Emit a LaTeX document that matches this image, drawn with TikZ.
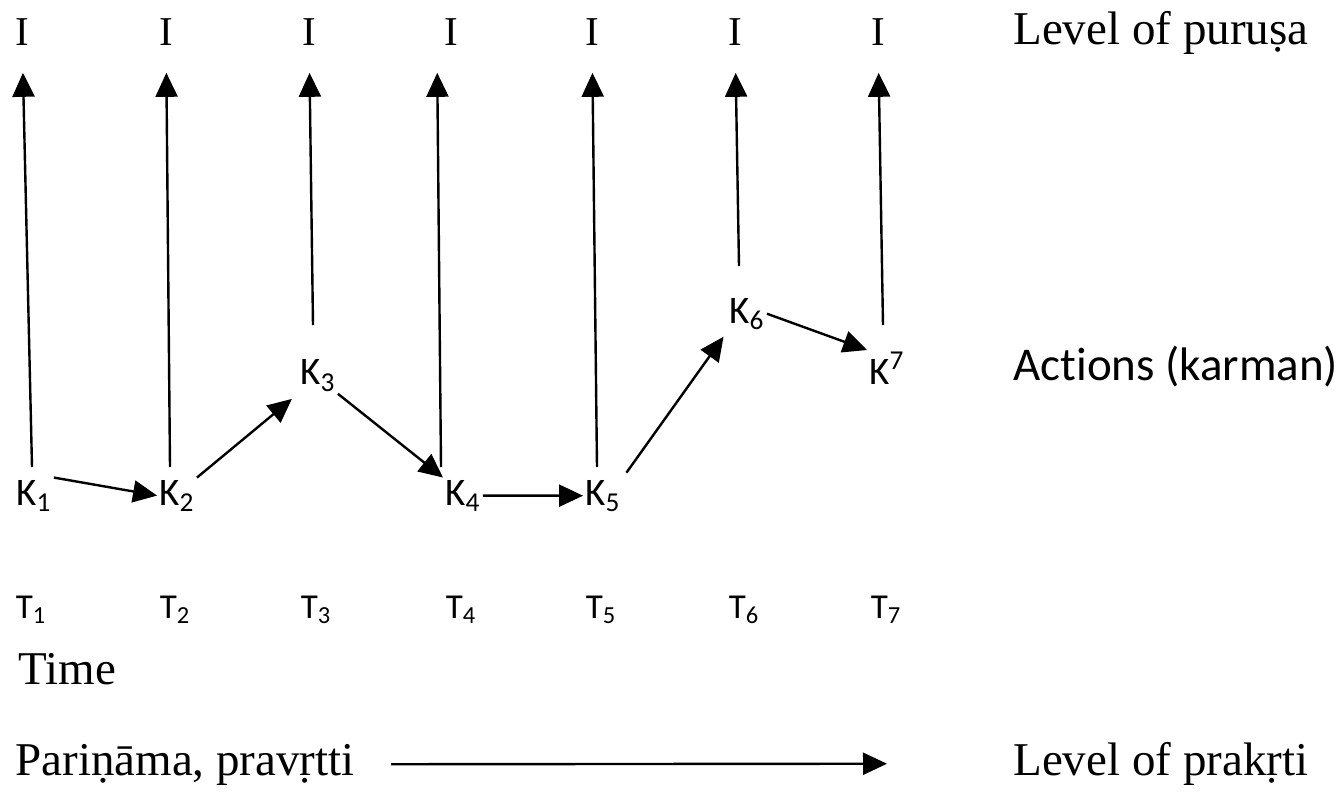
\documentclass[tikz,border=0pt]{standalone}
\usepackage{fontspec}
\setmainfont{Liberation Serif}
\newfontfamily\kfont[Ligatures=NoCommon]{Carlito}
\usepackage{tikz}
\usetikzlibrary{arrows.meta}
\tikzset{
  ar/.style={-{Triangle[length=12pt,width=11pt]},line width=1.2pt,black},
  klab/.style={font=\kfont\fontsize{19.5}{22}\selectfont,inner sep=1pt,anchor=base},
  tlab/.style={font=\kfont\fontsize{17.5}{20}\selectfont,inner sep=1pt,anchor=base},
  ilab/.style={font=\fontsize{20.5}{24}\selectfont,inner sep=0pt},
  txt/.style={font=\fontsize{23.5}{27}\selectfont,inner sep=0pt,anchor=base west}
}
\begin{document}
\begin{tikzpicture}[x=0.5pt,y=-0.5pt]
\useasboundingbox (0,0) rectangle (1341,792);
% level of purusa
\node[ilab] (i1) at (22,32) {I};
\node[ilab] (i2) at (166,32) {I};
\node[ilab] (i3) at (309,32) {I};
\node[ilab] (i4) at (451,32) {I};
\node[ilab] (i5) at (592,32) {I};
\node[ilab] (i6) at (735,32) {I};
\node[ilab] (i7) at (878,32) {I};
\node[txt] (purusa) at (1013,45) {Level of puruṣa};
% actions
\node[klab] (k1) at (34,505) {K\textsubscript{1}};
\node[klab] (k2) at (177,505) {K\textsubscript{2}};
\node[klab] (k3) at (318,385) {K\textsubscript{3}};
\node[klab] (k4) at (463,505) {K\textsubscript{4}};
\node[klab] (k5) at (603,505) {K\textsubscript{5}};
\node[klab] (k6) at (747,323) {K\textsubscript{6}};
\node[klab] (k7) at (887,385) {K\textsuperscript{7}};
\node[txt,font=\kfont\fontsize{23.5}{27}\selectfont] (actions) at (1013,380) {Actions (karman)};
% free ends of the upward arrows
\coordinate (b1) at (32,467);
\coordinate (b2) at (170,467);
\coordinate (b3) at (313,325);
\coordinate (b4) at (441,467);
\coordinate (b5) at (597,467);
\coordinate (b6) at (739,266);
\coordinate (b7) at (883,325);
\draw[ar,shorten >=13.5pt] (b1) -- (i1);
\draw[ar,shorten >=13.5pt] (b2) -- (i2);
\draw[ar,shorten >=13.5pt] (b3) -- (i3);
\draw[ar,shorten >=13.5pt] (b4) -- ([xshift=-7pt]i4.south);
\draw[ar,shorten >=13.5pt] (b5) -- (i5);
\draw[ar,shorten >=13.5pt] (b6) -- (i6);
\draw[ar,shorten >=13.5pt] (b7) -- (i7);
% chain of actions
\draw[ar] (k1.north east) -- (k2.west);
\draw[ar,shorten >=4pt] (k2.north east) -- (k3.south west);
\draw[ar] (k3.south east) -- (k4.north west);
\draw[ar] (k4.east) -- (k5.west);
\draw[ar,shorten <=3pt,shorten >=3pt] (k5.north east) -- (k6.south west);
\draw[ar] (k6.east) -- (k7.north west);
% time
\node[tlab] (t1) at (31,618) {T\textsubscript{1}};
\node[tlab] (t2) at (175,618) {T\textsubscript{2}};
\node[tlab] (t3) at (316,618) {T\textsubscript{3}};
\node[tlab] (t4) at (461,618) {T\textsubscript{4}};
\node[tlab] (t5) at (601,618) {T\textsubscript{5}};
\node[tlab] (t6) at (744,618) {T\textsubscript{6}};
\node[tlab] (t7) at (886,618) {T\textsubscript{7}};
\node[txt] (time) at (18,684) {Time};
% level of prakrti
\node[txt] (parinama) at (15,775) {Pariṇāma, pravṛtti};
\node[txt] (prakrti) at (1013,775) {Level of prakṛti};
\draw[ar,shorten <=18pt,shorten >=63pt] (parinama) -- (prakrti);
\end{tikzpicture}
\end{document}
